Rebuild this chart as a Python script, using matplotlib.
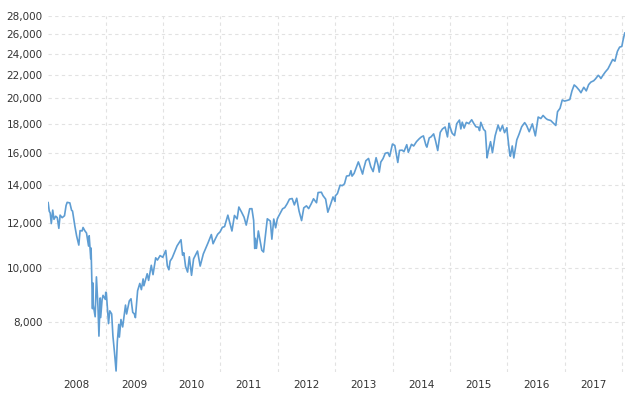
import matplotlib
matplotlib.use("Agg")
import matplotlib.pyplot as plt
import matplotlib.dates as mdates
from matplotlib.ticker import FixedLocator, FuncFormatter, NullLocator
import pandas as pd

# Dow Jones closes (semi-monthly, with turning points)
days_2008 = ["01-02", "01-09", "01-15", "01-22", "01-31", "02-08", "02-19", "02-29", "03-10", "03-18",
             "03-31", "04-15", "04-25", "05-02", "05-19", "05-30", "06-05", "06-20", "07-01", "07-15",
             "07-23", "08-05", "08-11", "08-22", "09-02", "09-15", "09-19", "09-29", "10-01", "10-10",
             "10-13", "10-15", "10-27", "11-04", "11-14", "11-20", "11-28", "12-01", "12-10", "12-16", "12-31"]
dow_2008 = [13044, 12590, 12501, 11971, 12650, 12182, 12337, 12266, 11740, 12392,
            12263, 12362, 12891, 13058, 13028, 12638, 12604, 11843, 11382, 10962,
            11632, 11615, 11782, 11628, 11516, 10917, 11388, 10365, 10831, 8451,
            9387, 8578, 8175, 9625, 8497, 7552, 8829, 8149, 8761, 8924, 8776]

days_2009 = ["01-02", "01-06", "01-20", "01-28", "02-09", "02-17", "02-27", "03-09", "03-17", "03-26",
             "03-30", "04-09", "04-20", "05-08", "05-15", "06-01", "06-12", "06-23", "07-02", "07-10",
             "07-24", "08-07", "08-17", "08-28", "09-02", "09-23", "10-02", "10-19", "10-30", "11-16",
             "11-27", "12-14", "12-31"]
dow_2009 = [9034, 9015, 7949, 8375, 8270, 7552, 7062, 6547, 7395, 7924,
            7522, 8083, 7841, 8575, 8268, 8721, 8799, 8323, 8280, 8146,
            9093, 9370, 9135, 9544, 9280, 9748, 9487, 10092, 9713, 10406,
            10310, 10501, 10428]

days_2010 = ["01-19", "01-29", "02-08", "02-16", "03-01", "03-15", "04-01", "04-26", "05-06", "05-14",
             "05-25", "06-07", "06-18", "07-02", "07-15", "08-09", "08-26", "09-15", "10-01", "10-15",
             "11-05", "11-16", "12-01", "12-15", "12-31"]
dow_2010 = [10725, 10067, 9908, 10268, 10403, 10642, 10927, 11205, 10520, 10620,
            10043, 9816, 10450, 9686, 10359, 10698, 10060, 10573, 10830, 11063,
            11445, 11023, 11255, 11457, 11577]

days_2011 = ["01-14", "01-28", "02-18", "03-01", "03-16", "04-01", "04-18", "04-29", "05-16", "06-01",
             "06-15", "07-07", "07-21", "08-01", "08-08", "08-12", "08-19", "08-31", "09-22", "10-03",
             "10-27", "11-15", "11-25", "12-07", "12-19", "12-30"]
dow_2011 = [11787, 11823, 12391, 12058, 11613, 12376, 12201, 12810, 12548, 12290,
            11897, 12719, 12724, 12132, 10810, 11269, 10817, 11614, 10733, 10655,
            12208, 12096, 11231, 12196, 11766, 12218]

days_2012 = ["01-17", "02-01", "02-15", "03-01", "03-16", "04-02", "04-16", "05-01", "05-16", "06-01",
             "06-15", "07-02", "07-16", "08-01", "08-16", "09-04", "09-14", "10-05", "10-15", "11-01",
             "11-15", "12-03", "12-18", "12-31"]
dow_2012 = [12482, 12716, 12781, 12980, 13232, 13264, 12921, 13279, 12599, 12118,
            12767, 12871, 12727, 12976, 13250, 13035, 13593, 13610, 13424, 13232,
            12542, 12966, 13350, 13104]

days_2013 = ["01-02", "01-15", "02-01", "02-15", "03-01", "03-14", "04-01", "04-11", "04-18", "05-01",
             "05-28", "06-03", "06-24", "07-01", "07-15", "08-01", "08-15", "08-30", "09-18", "10-01",
             "10-08", "10-18", "11-01", "11-15", "12-02", "12-13", "12-31"]
dow_2013 = [13412, 13535, 14009, 13981, 14090, 14539, 14573, 14865, 14537, 14700,
            15409, 15254, 14660, 14975, 15484, 15628, 15112, 14810, 15677, 15191,
            14776, 15400, 15616, 15962, 16009, 15755, 16577]

days_2014 = ["01-15", "02-03", "02-14", "03-03", "03-14", "04-01", "04-11", "05-01", "05-15", "06-02",
             "06-20", "07-03", "07-16", "08-01", "08-07", "08-22", "09-02", "09-19", "10-01", "10-15",
             "10-31", "11-14", "12-01", "12-16", "12-26", "12-31"]
dow_2014 = [16482, 15373, 16154, 16168, 16066, 16533, 16027, 16558, 16447, 16743,
            16947, 17068, 17139, 16493, 16368, 17001, 17067, 17280, 16804, 16142,
            17391, 17634, 17776, 17069, 18053, 17823]

days_2015 = ["01-15", "01-30", "02-13", "03-02", "03-11", "03-20", "04-01", "04-15", "05-01", "05-19",
             "06-01", "06-15", "07-01", "07-08", "07-16", "08-03", "08-14", "08-25", "09-01", "09-16",
             "09-28", "10-15", "11-03", "11-16", "12-01", "12-14", "12-29", "12-31"]
dow_2015 = [17320, 17165, 18019, 18288, 17635, 18128, 17698, 18113, 18025, 18312,
            18040, 17792, 17758, 17515, 18120, 17598, 17477, 15666, 16058, 16740,
            16001, 17141, 17918, 17483, 17888, 17368, 17720, 17425]

days_2016 = ["01-15", "01-20", "02-01", "02-11", "03-01", "03-15", "04-01", "04-20", "05-02", "05-19",
             "06-08", "06-27", "07-15", "08-01", "08-15", "09-01", "09-12", "10-03", "10-17", "11-04",
             "11-15", "12-01", "12-15", "12-30"]
dow_2016 = [15988, 15766, 16449, 15660, 16865, 17251, 17793, 18096, 17891, 17436,
            18005, 17140, 18516, 18404, 18636, 18419, 18325, 18253, 18086, 17888,
            18923, 19191, 19853, 19763]

days_2017 = ["01-17", "02-01", "02-15", "03-01", "03-15", "04-03", "04-13", "05-01", "05-17", "06-01",
             "06-15", "07-03", "07-14", "08-01", "08-10", "08-18", "09-01", "09-15", "10-02", "10-16",
             "11-01", "11-15", "12-01", "12-15", "12-29"]
dow_2017 = [19826, 19890, 20611, 21115, 20950, 20651, 20453, 20913, 20607, 21144,
            21360, 21479, 21637, 21963, 21844, 21675, 21988, 22268, 22557, 22957,
            23435, 23272, 24231, 24651, 24719]

days_2018 = ["01-05", "01-12", "01-17"]
dow_2018 = [25295, 25803, 26116]

y_ticks = [8000, 10000, 12000, 14000, 16000, 18000, 20000, 22000, 24000, 26000, 28000]
grid_years = list(range(2009, 2019))

parts = [(2008, days_2008, dow_2008), (2009, days_2009, dow_2009), (2010, days_2010, dow_2010),
         (2011, days_2011, dow_2011), (2012, days_2012, dow_2012), (2013, days_2013, dow_2013),
         (2014, days_2014, dow_2014), (2015, days_2015, dow_2015), (2016, days_2016, dow_2016),
         (2017, days_2017, dow_2017), (2018, days_2018, dow_2018)]
dates = []
closes = []
for yr, ds, vs in parts:
    dates += [f"{yr}-{d}" for d in ds]
    closes += vs
dates = pd.to_datetime(dates)

fig = plt.figure(figsize=(6.4, 3.93), dpi=100)
ax = fig.add_axes([0.075, 0.0534, 0.902, 0.9059])

ax.plot(dates, closes, color='#5e9dd3', linewidth=1.2, zorder=3)

ax.set_yscale('log')
ax.set_ylim(6520, 28000)
ax.yaxis.set_major_locator(FixedLocator(y_ticks))
ax.yaxis.set_minor_locator(NullLocator())
ax.yaxis.set_major_formatter(FuncFormatter(lambda v, p: f"{v:,.0f}"))

ax.set_xlim(pd.Timestamp('2008-01-01'), pd.Timestamp('2018-01-20'))
# gridlines at year starts, labels centred in each year
ax.xaxis.set_major_locator(FixedLocator([mdates.date2num(pd.Timestamp(f"{y}-01-01")) for y in grid_years]))
ax.xaxis.set_major_formatter(FuncFormatter(lambda v, p: ""))
ax.xaxis.set_minor_locator(mdates.MonthLocator(bymonth=7))
ax.xaxis.set_minor_formatter(mdates.DateFormatter('%Y'))

ax.grid(True, which='major', color='#e2e2e2', linestyle=(0, (3, 3)), linewidth=0.8, zorder=0)
for s in ax.spines.values():
    s.set_visible(False)
ax.tick_params(axis='both', which='both', length=0, labelsize=7.5, labelcolor='#333333')
ax.tick_params(axis='y', pad=4)
ax.tick_params(axis='x', which='minor', pad=6)

fig.savefig('out.png', dpi=100)
